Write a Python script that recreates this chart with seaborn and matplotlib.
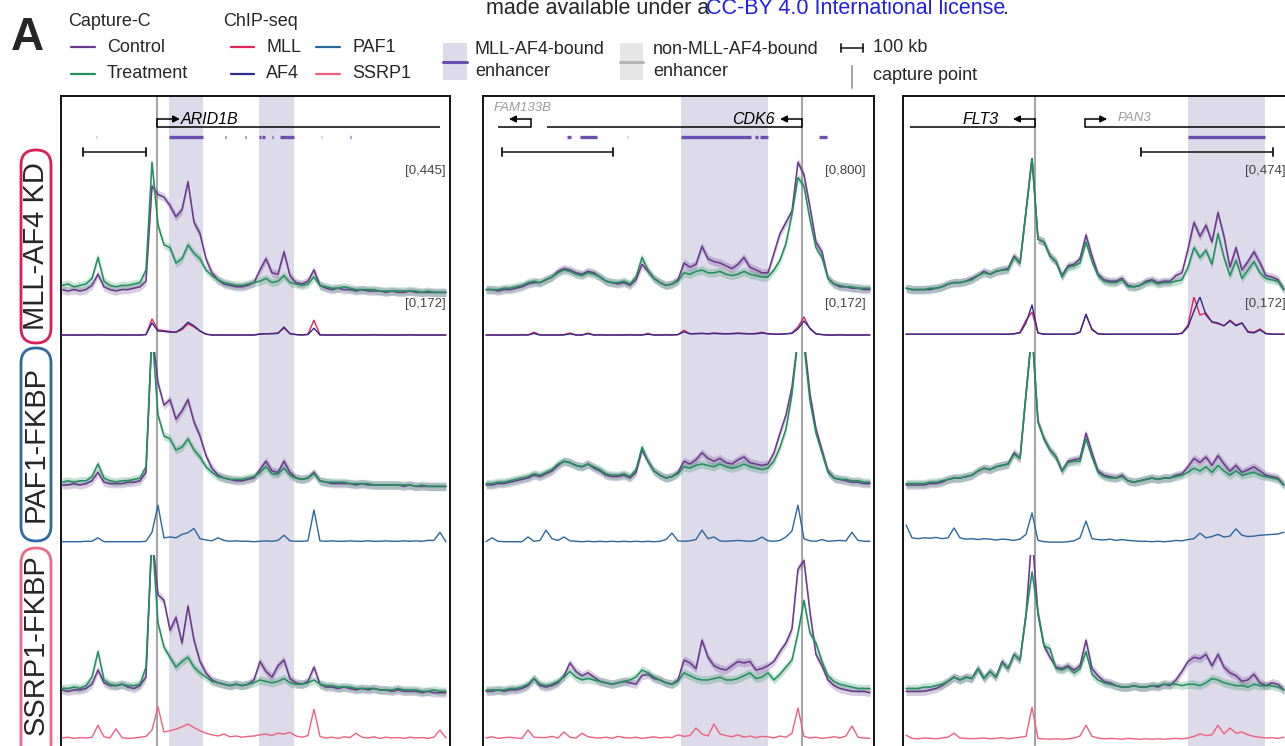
import numpy as np
import matplotlib
matplotlib.use("Agg")
import matplotlib.pyplot as plt
from matplotlib.patches import FancyBboxPatch, Rectangle
import seaborn as sns

# ---------------- data ----------------
# signal values: % of each track's range; x: kb from the left edge of each panel
p1_x = np.linspace(1.6, 611, 65)
p2_x = np.linspace(2.7, 348.6, 65)
p3_x = np.linspace(2.3, 288.6, 64)

# panel 1 (ARID1B)
p1_ctrl_kd = [6, 5, 6, 5, 6, 9, 17, 8, 6, 5,
              6, 6, 7, 8, 12, 80, 74, 72, 66, 58,
              63, 83, 54, 46, 28, 18, 13, 10, 9, 8,
              8, 9, 11, 20, 28, 18, 17, 33, 16, 11,
              10, 12, 20, 9, 7, 6, 7, 6, 6, 5,
              6, 5, 5, 5, 4, 5, 4, 4, 5, 4,
              4, 4, 4, 4, 4]
p1_trt_kd = [9, 10, 8, 9, 10, 14, 29, 12, 9, 8,
             9, 9, 10, 11, 20, 97, 52, 38, 36, 25,
             28, 38, 32, 28, 20, 16, 13, 11, 10, 9,
             9, 10, 11, 12, 14, 11, 12, 16, 11, 10,
             9, 10, 15, 9, 8, 7, 7, 8, 7, 6,
             6, 6, 6, 5, 5, 5, 5, 5, 5, 5,
             4, 5, 4, 4, 4]
p1_mll = [5, 5, 5, 5, 5, 5, 6, 5, 5, 5,
          5, 5, 5, 5, 6, 45, 18, 16, 14, 12,
          18, 33, 25, 15, 7, 5, 5, 5, 5, 5,
          5, 5, 5, 8, 8, 9, 10, 22, 9, 6,
          5, 7, 42, 6, 5, 5, 5, 6, 5, 5,
          5, 5, 6, 5, 5, 5, 5, 5, 6, 5,
          5, 5, 5, 5, 5]
p1_af4 = [5, 5, 5, 5, 5, 5, 5, 5, 5, 5,
          5, 5, 5, 5, 6, 35, 15, 14, 12, 12,
          22, 37, 28, 15, 7, 5, 5, 5, 5, 5,
          5, 5, 5, 7, 8, 8, 9, 25, 8, 6,
          5, 6, 22, 5, 5, 5, 5, 5, 5, 5,
          5, 5, 5, 5, 5, 5, 5, 5, 5, 5,
          5, 5, 5, 5, 5]
p1_ctrl_paf1 = [5, 5, 6, 5, 6, 8, 14, 7, 6, 6,
                6, 7, 7, 8, 14, 115, 78, 62, 66, 52,
                58, 66, 50, 40, 26, 17, 12, 10, 9, 8,
                8, 9, 10, 16, 22, 15, 14, 22, 14, 10,
                9, 10, 14, 8, 7, 6, 6, 6, 6, 5,
                6, 5, 5, 5, 5, 5, 5, 4, 5, 4,
                4, 4, 4, 4, 4]
p1_trt_paf1 = [7, 8, 7, 8, 8, 11, 20, 10, 8, 7,
               8, 8, 9, 10, 18, 115, 55, 40, 38, 30,
               32, 38, 30, 25, 18, 14, 11, 10, 9, 9,
               9, 10, 11, 14, 18, 13, 13, 17, 12, 10,
               9, 10, 13, 8, 7, 7, 7, 7, 6, 6,
               6, 6, 5, 5, 5, 5, 5, 5, 5, 4,
               5, 4, 4, 4, 4]
p1_paf1 = [3, 3, 3, 3, 4, 4, 12, 3, 3, 3,
           3, 3, 3, 3, 4, 25, 88, 12, 14, 12,
           20, 24, 34, 10, 7, 5, 12, 6, 4, 5,
           4, 4, 3, 4, 5, 4, 6, 18, 5, 4,
           4, 5, 77, 5, 4, 5, 4, 4, 5, 4,
           4, 5, 4, 4, 5, 4, 4, 5, 4, 5,
           4, 6, 6, 25, 3]
p1_ctrl_ssrp1 = [5, 4, 5, 5, 6, 9, 19, 10, 8, 8,
                 9, 7, 6, 8, 14, 115, 72, 68, 47, 56,
                 38, 64, 40, 25, 17, 12, 10, 9, 8, 9,
                 8, 9, 12, 25, 18, 14, 22, 26, 13, 10,
                 9, 11, 21, 9, 7, 7, 6, 7, 6, 5,
                 6, 5, 6, 5, 5, 4, 5, 4, 4, 4,
                 3, 4, 3, 3, 3]
p1_trt_ssrp1 = [6, 6, 7, 6, 8, 14, 32, 12, 9, 8,
                9, 8, 8, 9, 21, 115, 52, 35, 28, 21,
                25, 28, 21, 17, 14, 11, 10, 9, 8, 9,
                8, 9, 10, 12, 11, 10, 11, 13, 10, 9,
                9, 10, 12, 9, 8, 8, 7, 7, 7, 6,
                6, 6, 6, 5, 5, 5, 6, 5, 5, 5,
                4, 4, 5, 4, 4]
p1_ssrp1 = [10, 12, 9, 11, 10, 12, 42, 13, 10, 33,
            11, 9, 10, 12, 14, 30, 88, 25, 28, 32,
            38, 45, 36, 28, 22, 18, 15, 20, 13, 15,
            12, 14, 15, 18, 20, 16, 22, 20, 24, 15,
            12, 16, 82, 14, 10, 12, 9, 13, 11, 22,
            12, 10, 13, 9, 12, 10, 11, 9, 12, 10,
            11, 9, 12, 30, 10]

# panel 2 (CDK6)
p2_ctrl_kd = [6, 6, 5, 6, 6, 7, 8, 10, 11, 11,
              13, 15, 19, 21, 20, 18, 17, 19, 18, 15,
              12, 11, 10, 11, 9, 13, 24, 19, 14, 11,
              9, 10, 13, 25, 22, 24, 37, 28, 26, 25,
              23, 21, 24, 29, 22, 20, 18, 18, 32, 46,
              54, 62, 97, 88, 65, 40, 33, 14, 10, 8,
              8, 7, 7, 6, 6]
p2_trt_kd = [6, 6, 6, 7, 7, 8, 9, 11, 12, 11,
             13, 15, 18, 20, 19, 17, 16, 18, 17, 15,
             12, 11, 11, 12, 10, 15, 29, 20, 14, 11,
             9, 10, 12, 18, 17, 19, 20, 18, 18, 19,
             17, 16, 17, 19, 17, 16, 15, 15, 20, 27,
             39, 60, 86, 80, 56, 36, 29, 14, 10, 9,
             8, 8, 7, 7, 7]
p2_mll = [5, 5, 5, 5, 5, 5, 6, 5, 12, 5,
          5, 5, 5, 6, 10, 5, 5, 10, 5, 6,
          5, 5, 5, 5, 6, 5, 5, 9, 5, 5,
          6, 5, 6, 17, 8, 9, 9, 8, 10, 9,
          8, 9, 10, 9, 8, 9, 12, 8, 7, 7,
          8, 10, 25, 50, 20, 8, 6, 5, 5, 6,
          5, 5, 5, 5, 5]
p2_af4 = [5, 5, 5, 5, 5, 5, 5, 5, 9, 5,
          5, 5, 5, 5, 8, 5, 5, 8, 5, 5,
          5, 5, 5, 5, 5, 5, 5, 7, 5, 5,
          5, 5, 6, 13, 8, 8, 9, 8, 9, 8,
          8, 8, 9, 8, 8, 8, 10, 8, 7, 7,
          8, 9, 20, 40, 22, 8, 6, 5, 5, 5,
          5, 5, 5, 5, 5]
p2_ctrl_paf1 = [5, 5, 6, 6, 7, 8, 9, 10, 12, 11,
                13, 15, 19, 22, 21, 19, 18, 20, 17, 15,
                12, 11, 11, 12, 10, 14, 30, 22, 15, 12,
                10, 11, 14, 22, 20, 23, 28, 24, 22, 24,
                21, 20, 23, 25, 21, 20, 19, 20, 28, 42,
                55, 75, 110, 110, 70, 45, 30, 15, 10, 9,
                8, 7, 7, 6, 6]
p2_trt_paf1 = [6, 6, 7, 7, 8, 9, 10, 11, 13, 12,
               14, 16, 20, 22, 21, 19, 18, 20, 18, 16,
               13, 12, 12, 13, 11, 16, 32, 22, 15, 12,
               10, 11, 13, 18, 17, 19, 20, 19, 18, 20,
               18, 17, 18, 20, 18, 17, 16, 17, 22, 32,
               45, 70, 110, 105, 65, 42, 28, 14, 10, 9,
               9, 8, 8, 7, 7]
p2_paf1 = [3, 12, 4, 3, 3, 3, 3, 14, 4, 6,
           30, 10, 6, 14, 5, 4, 3, 4, 3, 4,
           3, 4, 3, 4, 3, 4, 3, 4, 3, 4,
           8, 23, 5, 4, 5, 8, 30, 10, 14, 5,
           4, 5, 6, 5, 4, 6, 14, 5, 4, 6,
           14, 28, 88, 10, 5, 4, 8, 4, 5, 6,
           5, 25, 6, 4, 4]
p2_ctrl_ssrp1 = [4, 4, 5, 4, 5, 5, 6, 8, 13, 8,
                 7, 8, 10, 15, 24, 18, 15, 17, 14, 11,
                 10, 9, 10, 11, 10, 9, 15, 16, 13, 12,
                 10, 9, 12, 26, 24, 20, 40, 28, 22, 20,
                 19, 22, 25, 24, 25, 19, 20, 22, 25, 32,
                 38, 48, 90, 96, 60, 30, 22, 12, 8, 6,
                 5, 4, 4, 4, 3]
p2_trt_ssrp1 = [5, 5, 5, 5, 6, 6, 7, 9, 13, 9,
                8, 9, 11, 14, 18, 14, 12, 13, 12, 11,
                10, 9, 10, 11, 12, 14, 19, 17, 14, 12,
                10, 9, 11, 17, 15, 13, 12, 12, 13, 14,
                12, 12, 13, 15, 17, 13, 14, 17, 12, 16,
                21, 26, 45, 68, 45, 38, 25, 15, 11, 9,
                8, 7, 6, 6, 6]
p2_ssrp1 = [10, 13, 9, 11, 12, 10, 9, 30, 12, 11,
            11, 14, 10, 25, 12, 10, 22, 13, 11, 10,
            12, 9, 14, 11, 10, 12, 9, 11, 13, 10,
            12, 11, 18, 14, 16, 35, 20, 15, 45, 20,
            16, 13, 18, 12, 15, 11, 14, 13, 10, 15,
            12, 22, 85, 14, 10, 12, 9, 11, 13, 10,
            15, 40, 12, 10, 9]

# panel 3 (FLT3)
p3_ctrl_kd = [7, 6, 6, 6, 6, 7, 8, 10, 11, 11,
              12, 14, 16, 19, 17, 19, 20, 21, 30, 25,
              62, 100, 42, 40, 30, 26, 16, 23, 24, 28,
              45, 30, 17, 13, 12, 12, 14, 9, 8, 9,
              12, 13, 11, 12, 12, 16, 18, 35, 54, 44,
              52, 40, 61, 44, 22, 36, 20, 26, 33, 25,
              16, 15, 13, 6]
p3_trt_kd = [7, 6, 6, 6, 7, 7, 8, 10, 11, 11,
             12, 13, 16, 18, 17, 19, 20, 20, 29, 25,
             62, 100, 42, 40, 30, 26, 15, 22, 23, 25,
             40, 26, 16, 12, 11, 11, 13, 8, 8, 9,
             11, 12, 10, 11, 11, 12, 13, 22, 36, 29,
             34, 24, 46, 29, 16, 27, 14, 20, 26, 18,
             14, 13, 12, 6]
p3_mll = [7, 7, 7, 7, 7, 7, 7, 7, 7, 7,
          7, 7, 7, 7, 7, 7, 7, 7, 8, 12,
          42, 62, 10, 7, 7, 7, 7, 7, 7, 12,
          55, 20, 8, 7, 7, 7, 7, 7, 7, 7,
          7, 7, 7, 7, 7, 7, 10, 30, 100, 55,
          60, 37, 33, 28, 42, 30, 35, 14, 12, 20,
          9, 7, 7, 7]
p3_af4 = [7, 7, 7, 7, 7, 7, 7, 7, 7, 7,
          7, 7, 7, 7, 7, 7, 7, 7, 8, 10,
          35, 80, 10, 7, 7, 7, 7, 7, 7, 12,
          57, 18, 8, 7, 7, 7, 7, 7, 7, 7,
          7, 7, 7, 7, 7, 7, 9, 25, 65, 100,
          55, 38, 35, 28, 40, 28, 35, 12, 10, 18,
          8, 7, 7, 7]
p3_ctrl_paf1 = [5, 5, 5, 5, 6, 6, 7, 9, 10, 10,
                11, 12, 15, 17, 16, 18, 19, 20, 28, 24,
                70, 115, 50, 38, 30, 25, 15, 22, 23, 24,
                42, 28, 15, 12, 11, 10, 12, 8, 7, 8,
                9, 10, 9, 10, 10, 12, 13, 18, 24, 21,
                25, 19, 26, 20, 15, 19, 14, 16, 18, 15,
                12, 11, 10, 5]
p3_trt_paf1 = [6, 6, 6, 6, 7, 7, 8, 9, 10, 10,
               11, 12, 15, 17, 16, 18, 19, 20, 27, 24,
               70, 115, 50, 38, 30, 25, 15, 21, 22, 22,
               38, 25, 14, 11, 10, 10, 11, 8, 7, 8,
               9, 10, 9, 10, 10, 11, 12, 14, 17, 15,
               18, 14, 19, 15, 12, 15, 12, 13, 14, 12,
               11, 10, 9, 5]
p3_paf1 = [42, 12, 10, 12, 11, 13, 10, 12, 35, 12,
           9, 10, 8, 10, 9, 7, 9, 8, 6, 9,
           20, 70, 6, 3, 2, 2, 2, 3, 5, 12,
           51, 10, 8, 7, 9, 6, 8, 6, 5, 4,
           4, 3, 4, 3, 4, 6, 5, 8, 10, 23,
           12, 15, 20, 14, 16, 33, 18, 15, 16, 18,
           19, 20, 21, 25]
p3_ctrl_ssrp1 = [4, 4, 4, 4, 5, 6, 8, 11, 14, 12,
                 14, 13, 20, 13, 18, 14, 25, 20, 30, 26,
                 58, 115, 58, 36, 28, 21, 20, 22, 19, 22,
                 40, 20, 15, 11, 10, 8, 7, 7, 8, 7,
                 7, 8, 7, 9, 8, 12, 18, 25, 28, 27,
                 30, 22, 30, 21, 17, 15, 11, 12, 16, 10,
                 8, 10, 9, 5]
p3_trt_ssrp1 = [6, 6, 6, 7, 7, 8, 9, 11, 14, 12,
                14, 13, 20, 13, 18, 14, 24, 20, 30, 26,
                58, 88, 60, 36, 34, 20, 19, 21, 17, 20,
                32, 16, 12, 10, 9, 8, 7, 7, 8, 7,
                7, 8, 8, 9, 9, 9, 8, 9, 9, 8,
                10, 13, 12, 10, 9, 8, 8, 7, 9, 8,
                8, 8, 7, 5]
p3_ssrp1 = [17, 9, 8, 10, 9, 8, 10, 12, 22, 10,
            9, 8, 9, 10, 8, 9, 11, 8, 10, 12,
            14, 87, 9, 8, 7, 8, 7, 8, 10, 15,
            42, 14, 10, 8, 9, 8, 7, 9, 8, 7,
            8, 7, 8, 7, 8, 9, 8, 10, 14, 20,
            16, 18, 42, 20, 35, 22, 25, 18, 14, 12,
            10, 11, 9, 12]

# annotations (kb)
p1_capture, p2_capture, p3_capture = 152.4, 287.4, 100.0
p1_shade = [(171.4, 225.4), (314.2, 369.8)]
p2_shade = [(178.4, 256.8)]
p3_shade = [(216.0, 274.4)]
p1_enh = [(171.4, 226.0), (260.5, 262.5), (292, 294), (314.2, 317.5), (319.5, 324.5),
          (335, 337), (348.0, 369.8), (458, 461)]
p1_enh_other = [(55.5, 57.5), (412.5, 414.5)]
p2_enh = [(75.7, 79.3), (87.4, 102.7), (178.4, 241.5), (245.1, 247.8), (249.7, 256.8), (302.7, 310.0)]
p2_enh_other = [(129.5, 130.5)]
p3_enh = [(216.0, 274.4)]
p3_enh_other = []
p1_genes = [("ARID1B", 152.4, 601.5, "+")]
p2_genes = [("FAM133B", 13.5, 43.2, "-"), ("CDK6", 57.7, 287.4, "-")]
p3_genes = [("FLT3", 5.3, 100.0, "-"), ("PAN3", 138.0, 330.0, "+")]
p1_scalebar, p2_scalebar, p3_scalebar = 35.0, 17.1, 180.4
capture_ranges = ["[0,445]", "[0,800]", "[0,474]"]
chip_range = "[0,172]"
row_names = ["MLL-AF4 KD", "PAF1-FKBP", "SSRP1-FKBP"]

# ---------------- style ----------------
sns.set_style("white")
plt.rcParams["font.family"] = ["Liberation Sans", "DejaVu Sans"]

CTRL = "#6b3a8c"
TRT = "#22905e"
MLL_C = "#e0245a"
AF4_C = "#2e2b8c"
PAF1_C = "#2b679b"
SSRP1_C = "#f0607f"
SHADE = "#dddaea"
ENH = "#6a4fb0"
GREY = "#a6a6a6"
ROW_COLORS = ["#d91f56", "#2d6a9f", "#ef6888"]

W, H = 1285, 746
fig = plt.figure(figsize=(W / 100, H / 100), dpi=100)


def rect(x0, y0, x1, y1):
    return [x0 / W, 1 - y1 / H, (x1 - x0) / W, (y1 - y0) / H]


# vertical layout of the tracks (px from top)
CAP_ROWS = [(158, 298), (352, 492), (555, 697)]
CHIP_ROWS = [(297, 337), (500, 543), (702, 742)]

gene_label = {
    "ARID1B": (190.4, 19, "left", "black", 11.5),
    "FAM133B": (9.9, 8, "left", "#9c9c9c", 9.5),
    "CDK6": (263.1, 19, "right", "black", 11.5),
    "FLT3": (72.7, 19, "right", "black", 11.5),
    "PAN3": (162.9, 18, "left", "#9c9c9c", 9.5),
}

panels = [
    dict(px=(61, 450), kbpx=100 / 63, x=p1_x, capture=p1_capture, shade=p1_shade,
         enh=p1_enh, enh_other=p1_enh_other, genes=p1_genes, bar=p1_scalebar,
         rng=capture_ranges[0], label_right=446, arrow_px=23,
         rows=[(p1_ctrl_kd, p1_trt_kd, [(p1_mll, MLL_C), (p1_af4, AF4_C)]),
               (p1_ctrl_paf1, p1_trt_paf1, [(p1_paf1, PAF1_C)]),
               (p1_ctrl_ssrp1, p1_trt_ssrp1, [(p1_ssrp1, SSRP1_C)])]),
    dict(px=(483, 874), kbpx=100 / 111, x=p2_x, capture=p2_capture, shade=p2_shade,
         enh=p2_enh, enh_other=p2_enh_other, genes=p2_genes, bar=p2_scalebar,
         rng=capture_ranges[1], label_right=866, arrow_px=22,
         rows=[(p2_ctrl_kd, p2_trt_kd, [(p2_mll, MLL_C), (p2_af4, AF4_C)]),
               (p2_ctrl_paf1, p2_trt_paf1, [(p2_paf1, PAF1_C)]),
               (p2_ctrl_ssrp1, p2_trt_ssrp1, [(p2_ssrp1, SSRP1_C)])]),
    dict(px=(903, 1293), kbpx=100 / 132, x=p3_x, capture=p3_capture, shade=p3_shade,
         enh=p3_enh, enh_other=p3_enh_other, genes=p3_genes, bar=p3_scalebar,
         rng=capture_ranges[2], label_right=1286, arrow_px=22,
         rows=[(p3_ctrl_kd, p3_trt_kd, [(p3_mll, MLL_C), (p3_af4, AF4_C)]),
               (p3_ctrl_paf1, p3_trt_paf1, [(p3_paf1, PAF1_C)]),
               (p3_ctrl_ssrp1, p3_trt_ssrp1, [(p3_ssrp1, SSRP1_C)])]),
]

for p in panels:
    x0, x1 = p["px"]
    xlim = (0, (x1 - x0) * p["kbpx"])
    x = p["x"]

    # frame with shading and capture point
    frame = fig.add_axes(rect(x0, 96, x1, 770))
    frame.set_xlim(xlim)
    frame.set_ylim(0, 1)
    frame.set_xticks([])
    frame.set_yticks([])
    for s in frame.spines.values():
        s.set_linewidth(1.4)
        s.set_color("#111111")
    for a, b in p["shade"]:
        frame.axvspan(a, b, color=SHADE, lw=0, zorder=0)
    frame.axvline(p["capture"], color=GREY, lw=1.5, zorder=1)

    # genes, enhancers, scale bar
    ann = fig.add_axes(rect(x0, 100, x1, 160))
    ann.set_xlim(xlim)
    ann.set_ylim(60, 0)
    ann.set_axis_off()
    alen = p["arrow_px"] * p["kbpx"]
    for name, start, end, strand in p["genes"]:
        ann.plot([start, end], [27, 27], color="black", lw=1.1, solid_capstyle="butt")
        tss = start if strand == "+" else end
        tip = tss + alen if strand == "+" else tss - alen
        ann.plot([tss, tss], [27, 19], color="black", lw=1.1)
        ann.annotate("", xy=(tip, 19), xytext=(tss, 19),
                     arrowprops=dict(arrowstyle="-|>", color="black", lw=1.1,
                                     mutation_scale=10, shrinkA=0, shrinkB=0))
        lx, ly, ha, col, fs = gene_label[name]
        ann.text(lx, ly, name, ha=ha, va="center", style="italic", color=col, fontsize=fs)
    for a, b in p["enh"]:
        ann.plot([a, b], [37, 37], color=ENH, lw=2.4, solid_capstyle="butt")
    for a, b in p["enh_other"]:
        ann.plot([a, b], [37, 37], color="#b5b5b5", lw=2.4, solid_capstyle="butt")
    bs = p["bar"]
    ann.plot([bs, bs + 100], [52, 52], color="#222222", lw=1.2)
    for xb in (bs, bs + 100):
        ann.plot([xb, xb], [48, 56], color="#222222", lw=1.4)

    # tracks
    for r, (ctrl, trt, chips) in enumerate(p["rows"]):
        cy0, cy1 = CAP_ROWS[r]
        cax = fig.add_axes(rect(x0, cy0, x1, cy1))
        for vals, col in ((ctrl, CTRL), (trt, TRT)):
            v = np.asarray(vals, float)
            cax.fill_between(x, v - 3, v + 3, color=col, alpha=0.25, lw=0)
            sns.lineplot(x=x, y=v, ax=cax, color=col, linewidth=1.15, errorbar=None)
        cax.set_xlim(xlim)
        cax.set_ylim(0, 100)
        cax.set_axis_off()

        hy0, hy1 = CHIP_ROWS[r]
        hax = fig.add_axes(rect(x0, hy0, x1, hy1))
        for vals, col in chips:
            sns.lineplot(x=x, y=np.asarray(vals, float), ax=hax, color=col,
                         linewidth=1.0, errorbar=None)
        hax.set_xlim(xlim)
        hax.set_ylim(0, 100)
        hax.set_axis_off()

        if r == 0:
            fx = (p["label_right"] - x0) / (x1 - x0)
            cax.text(fx, 1 - 13 / (cy1 - cy0), p["rng"], transform=cax.transAxes,
                     ha="right", va="center", fontsize=9.5, color="#444444")
            hax.text(fx, 1 - 7 / (hy1 - hy0), chip_range, transform=hax.transAxes,
                     ha="right", va="center", fontsize=9.5, color="#444444")

# ---------------- legend, row labels (pixel overlay) ----------------
lay = fig.add_axes([0, 0, 1, 1])
lay.set_xlim(0, W)
lay.set_ylim(H, 0)
lay.set_axis_off()

lay.text(11, 38, "A", fontsize=33, fontweight="bold", ha="left", va="center")
lay.text(68, 21, "Capture-C", fontsize=13, va="center")
lay.text(223, 21, "ChIP-seq", fontsize=13, va="center")
legend_items = [
    ((71, 95), 47, CTRL, "Control"), ((71, 95), 74, TRT, "Treatment"),
    ((231, 254), 47, MLL_C, "MLL"), ((231, 254), 74, AF4_C, "AF4"),
    ((316, 340), 47, PAF1_C, "PAF1"), ((316, 340), 74, SSRP1_C, "SSRP1"),
]
for (a, b), yy, col, lab in legend_items:
    lay.plot([a, b], [yy, yy], color=col, lw=1.6)
    lay.text(b + 12, yy, lab, fontsize=13, va="center")

lay.add_patch(Rectangle((443, 43), 24, 37, color=SHADE, lw=0))
lay.plot([443, 467], [62, 62], color=ENH, lw=2.2)
lay.text(475, 50, "MLL-AF4-bound", fontsize=13, va="center")
lay.text(475, 72, "enhancer", fontsize=13, va="center")
lay.add_patch(Rectangle((620, 43), 23, 37, color="#e6e6e6", lw=0))
lay.plot([620, 643], [62, 62], color="#b5b5b5", lw=2.2)
lay.text(653, 50, "non-MLL-AF4-bound", fontsize=13, va="center")
lay.text(653, 72, "enhancer", fontsize=13, va="center")

lay.plot([841, 863], [48, 48], color="#222222", lw=1.2)
for xb in (841, 863):
    lay.plot([xb, xb], [44, 52], color="#222222", lw=1.3)
lay.text(873, 47, "100 kb", fontsize=13, va="center")
lay.plot([852, 852], [66, 88], color=GREY, lw=1.5)
lay.text(873, 75, "capture point", fontsize=13, va="center")

lay.text(486, 9, "made available under a", fontsize=15.5, va="center")
lay.text(706, 9, "CC-BY 4.0 International license", fontsize=15.5, va="center", color="#1f1fe6")
lay.text(1003, 9, ".", fontsize=15.5, va="center")

row_boxes = [(150, 193), (348, 193), (548, 215)]
for (top, h), name, col in zip(row_boxes, row_names, ROW_COLORS):
    lay.add_patch(FancyBboxPatch((21, top), 30, h, boxstyle="round,pad=0,rounding_size=15",
                                 fill=False, ec=col, lw=2.0))
    cy = top + min(h, 193) / 2
    lay.text(36, cy, name, rotation=90, ha="center", va="center", fontsize=21)

fig.savefig("out.png", dpi=100)
